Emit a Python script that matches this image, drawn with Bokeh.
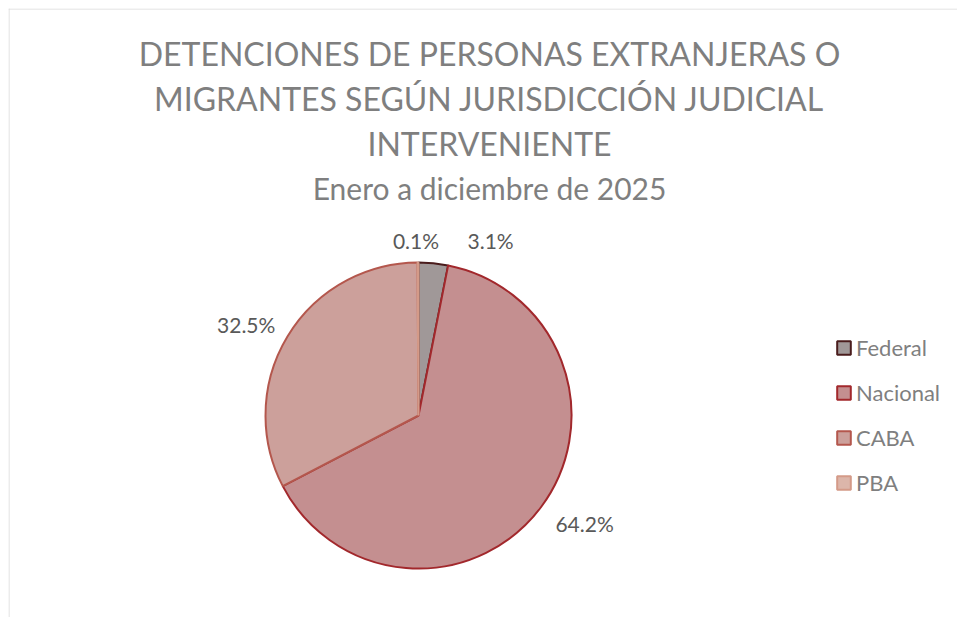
import math
from bokeh.plotting import figure
from bokeh.models import Range1d, Legend, LegendItem, Span
from bokeh.core.properties import value
from bokeh.embed import file_html
from bokeh.resources import INLINE

# ---- data ----
categories = ["Federal", "Nacional", "CABA", "PBA"]
shares = [3.1, 64.2, 32.5, 0.1]
pct_labels = ["3.1%", "64.2%", "32.5%", "0.1%"]
title_lines = ["DETENCIONES DE PERSONAS EXTRANJERAS O",
               "MIGRANTES SEGÚN JURISDICCIÓN JUDICIAL",
               "INTERVENIENTE"]
subtitle = "Enero a diciembre de 2025"

# ---- styles ----
fills = ["#a09898", "#c48f90", "#cca09b", "#dcb6aa"]
lines = ["#4a1c1c", "#a2282c", "#b4574d", "#d49a88"]
FONT = "Lato"
W, H = 957, 617
FW, FH = 949, 609

p = figure(width=W, height=H, output_backend="svg", toolbar_location=None,
           x_range=Range1d(0, FW), y_range=Range1d(0, FH), min_border=0,
           min_border_left=8, min_border_top=8,
           background_fill_color="white", border_fill_color="white")
p.axis.visible = False
p.grid.visible = False
p.outline_line_color = None
p.add_layout(Span(location=0.5, dimension="height", line_color="#d9d9d9", line_width=1))
p.add_layout(Span(location=FH - 0.5, dimension="width", line_color="#d9d9d9", line_width=1))

cx, cy, r = 410, 202, 153
total = sum(shares)
starts, ends, mids = [], [], []
acc = 0.0
for s in shares:
    a0 = acc / total
    acc += s
    a1 = acc / total
    starts.append(math.pi / 2 - 2 * math.pi * a0)
    ends.append(math.pi / 2 - 2 * math.pi * a1)
    mids.append(2 * math.pi * (a0 + a1) / 2)

renderers = []
for i in range(len(categories)):
    rr = p.wedge(x=cx, y=cy, radius=r, start_angle=starts[i], end_angle=ends[i],
                 direction="clock", fill_color=fills[i], line_color=lines[i],
                 line_width=2)
    renderers.append(rr)

# data labels (outside end, best-fit nudges)
lab_r = [176, 200, 200, 175]
lab_dx = [55, 6, -1, -2]
lab_dy = [0, 12, -12, 0]
lx = [cx + lab_r[i] * math.sin(mids[i]) + lab_dx[i] for i in range(4)]
ly = [cy + lab_r[i] * math.cos(mids[i]) + lab_dy[i] for i in range(4)]
p.text(x=lx, y=ly, text=pct_labels, text_align="center", text_baseline="middle",
       text_font=value(FONT), text_font_size="21px", text_color="#595959")

# title (cap centres at page y 53, 98, 143; subtitle 187)
p.text(x=[481, 481, 481], y=[FH - 45, FH - 90, FH - 135], text=title_lines,
       text_align="center", text_baseline="middle", text_font=value(FONT),
       text_font_size="32px", text_color="#7f7f7f")
p.text(x=[481], y=[FH - 179], text=[subtitle], text_align="center",
       text_baseline="middle", text_font=value(FONT), text_font_size="30px",
       text_color="#7f7f7f")

legend = Legend(items=[LegendItem(label=categories[i], renderers=[renderers[i]])
                       for i in range(4)],
                location=(827, 121), orientation="vertical",
                glyph_width=17, glyph_height=17, label_height=27,
                spacing=18, padding=0, margin=0, label_standoff=4,
                label_text_font=FONT, label_text_font_size="22px",
                label_text_color="#7f7f7f", border_line_alpha=0,
                background_fill_alpha=0)
p.add_layout(legend, "center")

open("out.html", "w").write(file_html(p, INLINE))
